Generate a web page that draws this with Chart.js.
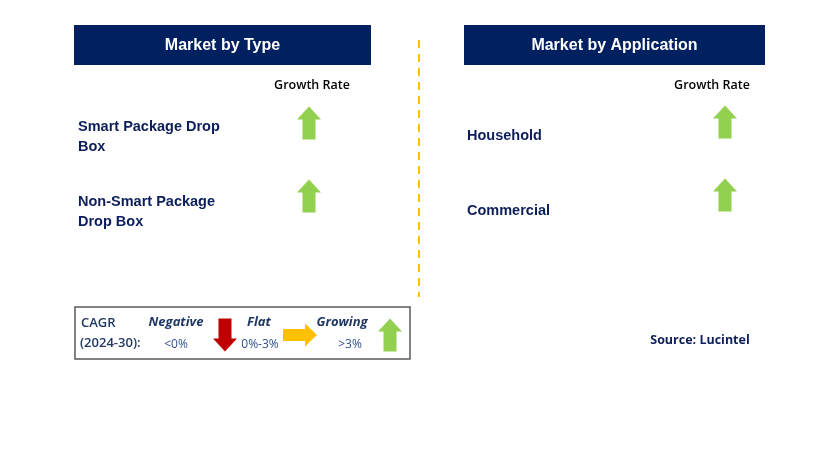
<!DOCTYPE html>
<html>
<head>
<meta charset="utf-8">
<script src="https://cdn.jsdelivr.net/npm/chart.js@4"></script>
<style>
  html, body { margin: 0; padding: 0; background: #fff; }
  canvas { display: block; }
</style>
</head>
<body>
<canvas id="chart" width="829" height="460"></canvas>
<script>
// Segment data
const typeTitle = 'Market by Type';
const typeCategories = [['Smart Package Drop', 'Box'], ['Non-Smart Package', 'Drop Box']];
const typeGrowth = ['up', 'up'];

const appTitle = 'Market by Application';
const appCategories = [['Household'], ['Commercial']];
const appGrowth = ['up', 'up'];

// Legend (CAGR key)
const legendLabels = ['Negative', 'Flat', 'Growing'];
const legendRanges = ['<0%', '0%-3%', '>3%'];
const legendDirs = ['down', 'right', 'up'];

const NAVY = '#002060';
const TEXT_NAVY = '#0C1E5B';
const colorFor = { up: '#92D050', down: '#C00000', right: '#FFC000' };

// draw a block arrow centred at (cx, cy)
function drawArrow(ctx, cx, cy, dir, color) {
  ctx.save();
  ctx.translate(cx, cy);
  if (dir === 'down') ctx.rotate(Math.PI);
  if (dir === 'right') ctx.rotate(Math.PI / 2);
  let w = 24, h = 33, head = 13, shaft = 13;
  if (dir === 'right') { w = 23; h = 34; head = 12; shaft = 12; }
  ctx.fillStyle = color;
  ctx.beginPath();
  ctx.moveTo(0, -h / 2);
  ctx.lineTo(w / 2, -h / 2 + head);
  ctx.lineTo(shaft / 2, -h / 2 + head);
  ctx.lineTo(shaft / 2, h / 2);
  ctx.lineTo(-shaft / 2, h / 2);
  ctx.lineTo(-shaft / 2, -h / 2 + head);
  ctx.lineTo(-w / 2, -h / 2 + head);
  ctx.closePath();
  ctx.fill();
  ctx.restore();
}

function arrowImage(dir) {
  const c = document.createElement('canvas');
  c.width = 28; c.height = 36;
  drawArrow(c.getContext('2d'), 14, 18, dir, colorFor[dir]);
  return c;
}

// row layout
const rowTop = 123, rowGap = 73;
const typeArrowX = 309, appArrowX = 725;

const typePoints = typeGrowth.map((g, i) => ({ x: typeArrowX, y: rowTop + i * rowGap }));
const appPoints = appGrowth.map((g, i) => ({ x: appArrowX, y: rowTop - 1 + i * rowGap }));

const panelPlugin = {
  id: 'panels',
  beforeDatasetsDraw(chart) {
    const ctx = chart.ctx;
    const xs = chart.scales.x, ys = chart.scales.y;
    const px = v => xs.getPixelForValue(v);
    const py = v => ys.getPixelForValue(v);
    ctx.save();
    ctx.textBaseline = 'middle';

    // headers
    function header(x0, x1, title) {
      ctx.fillStyle = NAVY;
      ctx.fillRect(px(x0), py(25), px(x1) - px(x0), py(65) - py(25));
      ctx.fillStyle = '#fff';
      ctx.font = 'bold 16px "Liberation Sans", Arial, sans-serif';
      ctx.textAlign = 'center';
      ctx.fillText(title, px((x0 + x1) / 2), py(46));
    }
    header(74, 371, typeTitle);
    header(464, 765, appTitle);

    // "Growth Rate" captions
    ctx.fillStyle = '#000';
    ctx.font = '600 12.5px "Open Sans", sans-serif';
    ctx.textAlign = 'center';
    ctx.fillText('Growth Rate', px(312), py(85));
    ctx.fillText('Growth Rate', px(712), py(85));

    // category labels
    ctx.fillStyle = TEXT_NAVY;
    ctx.font = 'bold 14.5px "Liberation Sans", Arial, sans-serif';
    ctx.textAlign = 'left';
    typeCategories.forEach((lines, i) => {
      lines.forEach((t, j) => ctx.fillText(t, px(78), py(127 + i * 75 + j * 20)));
    });
    appCategories.forEach((lines, i) => {
      lines.forEach((t, j) => ctx.fillText(t, px(467), py(136 + i * 75 + j * 20)));
    });

    // dashed divider
    ctx.strokeStyle = '#FFC000';
    ctx.lineWidth = 2;
    ctx.setLineDash([8, 6]);
    ctx.beginPath();
    ctx.moveTo(px(419), py(40));
    ctx.lineTo(px(419), py(297));
    ctx.stroke();
    ctx.setLineDash([]);

    // legend box
    ctx.strokeStyle = '#595959';
    ctx.lineWidth = 1.5;
    ctx.strokeRect(px(75), py(307), px(410) - px(75), py(359) - py(307));

    ctx.fillStyle = '#1F3864';
    ctx.font = '600 13px "Open Sans", sans-serif';
    ctx.textAlign = 'left';
    ctx.fillText('CAGR', px(81), py(323));
    ctx.fillText('(2024-30):', px(80), py(343));

    const labelX = [176, 259, 342];
    const rangeX = [176, 260, 350];
    const arrowX = [225, 300, 390];
    const arrowY = [335, 335, 335];
    legendLabels.forEach((l, i) => {
      ctx.fillStyle = '#1F3864';
      ctx.textAlign = 'center';
      ctx.font = 'italic bold 13px "Open Sans", sans-serif';
      ctx.fillText(l, px(labelX[i]), py(322));
      ctx.fillStyle = '#2F4F8F';
      ctx.font = '12px "Open Sans", sans-serif';
      ctx.fillText(legendRanges[i], px(rangeX[i]), py(345));
      drawArrow(ctx, px(arrowX[i]), py(arrowY[i]), legendDirs[i], colorFor[legendDirs[i]]);
    });

    // source
    ctx.fillStyle = TEXT_NAVY;
    ctx.font = 'bold 12.5px "Open Sans", sans-serif';
    ctx.textAlign = 'center';
    ctx.fillText('Source: Lucintel', px(700), py(340));

    ctx.restore();
  }
};

new Chart(document.getElementById('chart'), {
  type: 'scatter',
  data: {
    datasets: [
      {
        label: 'Type growth',
        data: typePoints,
        pointStyle: typeGrowth.map(arrowImage),
        pointRadius: 14
      },
      {
        label: 'Application growth',
        data: appPoints,
        pointStyle: appGrowth.map(arrowImage),
        pointRadius: 14
      }
    ]
  },
  options: {
    responsive: false,
    animation: false,
    layout: { padding: 0, autoPadding: false },
    scales: {
      x: { type: 'linear', min: 0, max: 829, display: false },
      y: { type: 'linear', min: 0, max: 460, reverse: true, display: false }
    },
    plugins: {
      legend: { display: false },
      tooltip: { enabled: false }
    }
  },
  plugins: [panelPlugin]
});
</script>
</body>
</html>
